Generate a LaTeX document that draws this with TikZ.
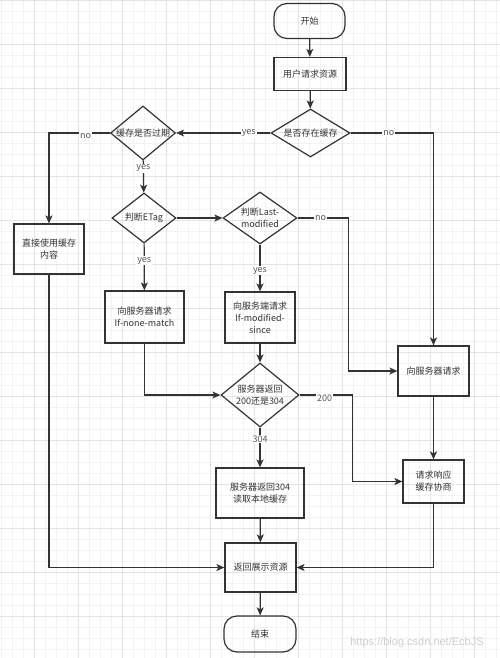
\documentclass[tikz,border=0pt]{standalone}
\usepackage{fontspec}
\setmainfont{Noto Sans CJK SC}
\newfontfamily\wmfont{Liberation Sans}
\usetikzlibrary{shapes.geometric,arrows.meta}
\definecolor{ln}{HTML}{333333}
\definecolor{tx}{HTML}{333333}
\definecolor{lb}{HTML}{555555}
\definecolor{gminor}{HTML}{F2F2F2}
\definecolor{gmajor}{HTML}{E4E4E4}
\definecolor{wm}{HTML}{CFCFCF}
\tikzset{
  base/.style={draw=ln, line width=1.2pt, text=tx, inner sep=0pt, align=center,
    font=\fontsize{9}{12}\selectfont},
  box/.style={base, rectangle, minimum width=#1},
  term/.style={base, rectangle, rounded corners=13pt, minimum width=71pt, minimum height=35pt},
  dec/.style={base, diamond, label={[text=tx, align=center, inner sep=0pt,
    font=\fontsize{9}{12}\selectfont]center:#1}},
  arr/.style={draw=ln, line width=1.2pt, -{Stealth[length=8pt,width=7pt,inset=2pt]}},
  lab/.style={fill=white, text=lb, inner sep=1pt, font=\fontsize{9}{10}\selectfont},
}
\begin{document}
\begin{tikzpicture}[x=1pt,y=-1pt]
\useasboundingbox (0,0) rectangle (500,658);
\fill[white] (0,0) rectangle (500,658);
% grid
\foreach \i in {0,...,45} {\draw[gminor, line width=0.8pt] (1+11*\i,0) -- (1+11*\i,658);}
\foreach \i in {0,...,60} {\draw[gminor, line width=0.8pt] (0,11*\i) -- (500,11*\i);}
\foreach \i in {0,...,11} {\draw[gmajor, line width=0.9pt] (34+44*\i,0) -- (34+44*\i,658);}
\foreach \i in {0,...,15} {\draw[gmajor, line width=0.9pt] (0,44*\i) -- (500,44*\i);}

% nodes
\node[term] (start) at (309.5,21) {开始};
\node[box=72pt, minimum height=33pt] (req) at (310,74) {用户请求资源};
\node[dec={是否存在缓存}, minimum width=79pt, minimum height=48pt] (exist) at (310.5,133) {};
\node[dec={缓存是否过期}, minimum width=65pt, minimum height=54pt] (expired) at (143,133) {};
\node[dec={判断ETag}, minimum width=64pt, minimum height=50pt] (etag) at (144,218) {};
\node[dec={判断Last-\\modified}, minimum width=74pt, minimum height=52pt] (lastmod) at (260,218) {};
\node[box=70pt, minimum height=50pt] (direct) at (49,249) {直接使用缓存\\内容};
\node[box=79pt, minimum height=52pt] (inm) at (144.5,317) {向服务器请求\\If-none-match};
\node[box=70pt, minimum height=51pt] (ims) at (260,317.5) {向服务端请求\\If-modified-\\since};
\node[box=71pt, minimum height=50pt] (srv) at (433.5,371) {向服务器请求};
\node[dec={服务器返回\\200还是304}, minimum width=78pt, minimum height=64pt] (ret) at (260,395) {};
\node[box=61pt, minimum height=43pt] (nego) at (433.5,481.5) {请求响应\\缓存协商};
\node[box=88pt, minimum height=50pt] (r304) at (260,493) {服务器返回304\\读取本地缓存};
\node[box=71pt, minimum height=49pt] (show) at (260.5,567.5) {返回展示资源};
\node[term, minimum width=72pt, minimum height=36pt] (end) at (260,634) {结束};
\node[text=wm, font=\wmfont\fontsize{11}{12}\selectfont, inner sep=0pt] (wmark) at (417,643) {https://blog.csdn.net/EcbJS};

% connectors
\draw[arr] (start) -- (req);
\draw[arr] (req) -- (exist);
\draw[arr] (exist) -- node[lab, pos=0.23]{yes} (expired);
\draw[arr] (exist.east) -| node[lab, pos=0.23]{no} (srv.north);
\draw[arr] (expired.west) -| node[lab, pos=0.2, yshift=-3pt]{no} (direct.north);
\draw[arr] (expired) -- node[lab, pos=0.24]{yes} (etag);
\draw[arr] (etag) -- (lastmod);
\draw[arr] (lastmod.east) -- node[lab, pos=0.45]{no} ++(51,0) |- (srv.west);
\draw[arr] (etag) -- node[lab, pos=0.37]{yes} (inm);
\draw[arr] (lastmod) -- node[lab, pos=0.56]{yes} (ims);
\draw[arr] (inm.south) |- (ret.west);
\draw[arr] (ims) -- (ret);
\draw[arr] (ret.east) -- node[lab, pos=0.47, yshift=-3pt]{200} ++(53,0) |- (nego.west);
\draw[arr] (ret) -- node[lab, pos=0.29]{304} (r304);
\draw[arr] (srv) -- (nego);
\draw[arr] (r304) -- (show);
\draw[arr] (direct.south) |- (show.west);
\draw[arr] (nego.south) |- (show.east);
\draw[arr] (show) -- (end);
\end{tikzpicture}
\end{document}
